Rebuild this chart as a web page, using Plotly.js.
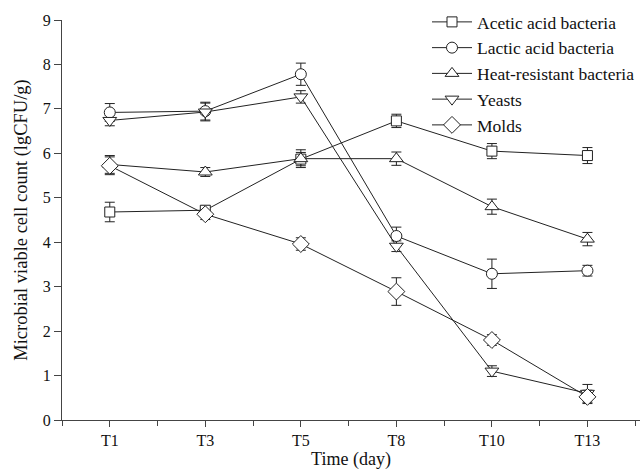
<!DOCTYPE html>
<html><head><meta charset="utf-8">
<script src="https://cdn.plot.ly/plotly-3.0.1.min.js"></script>
<style>body{margin:0;padding:0;background:#fff}#chart{width:644px;height:473px}</style>
</head><body><div id="chart"></div>
<script>
const categories = ["T1","T3","T5","T8","T10","T13"];
const seriesNames = ["Acetic acid bacteria","Lactic acid bacteria","Heat-resistant bacteria","Yeasts","Molds"];
const acetic = [4.68, 4.72, 5.87, 6.73, 6.05, 5.95];
const aceticErr = [0.22, 0.1, 0.15, 0.15, 0.17, 0.18];
const lactic = [6.92, 6.95, 7.78, 4.14, 3.29, 3.36];
const lacticErr = [0.2, 0.2, 0.25, 0.2, 0.33, 0.12];
const heat = [5.75, 5.58, 5.88, 5.88, 4.8, 4.07];
const heatErr = [0.2, 0.1, 0.2, 0.15, 0.17, 0.15];
const yeasts = [6.74, 6.93, 7.27, 3.91, 1.1, 0.6];
const yeastsErr = [0.12, 0.2, 0.14, 0.12, 0.12, 0.2];
const molds = [5.72, 4.63, 3.96, 2.89, 1.8, 0.52];
const moldsErr = [0.2, 0.12, 0.14, 0.31, 0.12, 0.15];

const symbols = ["square","circle","triangle-up","triangle-down","diamond"];
const markerSizes = [10, 11, 12, 12, 13];

const values = [acetic, lactic, heat, yeasts, molds];
const errs = [aceticErr, lacticErr, heatErr, yeastsErr, moldsErr];
const xIdx = categories.map((c,i)=>i);
const ink = "#222";

const errTraces = values.map((v,k)=>({
  type:"scatter", mode:"markers", name:seriesNames[k]+" SD", showlegend:false,
  x:xIdx, y:v, marker:{size:1, opacity:0},
  error_y:{type:"data", array:errs[k], visible:true, color:ink, thickness:1, width:5}
}));
const lineTraces = values.map((v,k)=>({
  type:"scatter", mode:"lines+markers", name:seriesNames[k],
  x:xIdx, y:v,
  line:{color:ink, width:1},
  marker:{symbol:symbols[k], size:markerSizes[k], color:"#fff", line:{color:ink, width:1}}
}));

const fam = "Liberation Serif";
const f = (s)=>({family:fam, size:s, color:"#111"});
const layout = {
  width:644, height:473,
  margin:{l:62, r:4, t:17, b:53},
  paper_bgcolor:"#fff", plot_bgcolor:"#fff",
  font:f(16),
  showlegend:true,
  legend:{x:1, y:1.04, xanchor:"right", yanchor:"top", bgcolor:"rgba(0,0,0,0)",
    font:f(17.5), tracegroupgap:0, itemwidth:40, borderwidth:0},
  xaxis:{
    range:[-0.5,5.55], tickmode:"array", tickvals:xIdx, ticktext:categories,
    ticks:"outside", ticklen:6, tickcolor:"#444", showgrid:false, zeroline:false,
    showline:true, linecolor:"#444", linewidth:1,
    minor:{tickmode:"array", tickvals:[-0.5,0.5,1.5,2.5,3.5,4.5,5.5], ticks:"outside", ticklen:5, tickcolor:"#444", showgrid:false},
    tickfont:f(16),
    title:{text:"Time (day)", font:f(18), standoff:4}
  },
  yaxis:{
    range:[0,9], tickvals:[0,1,2,3,4,5,6,7,8,9],
    ticks:"outside", ticklen:7, tickcolor:"#444", showgrid:false, zeroline:false,
    showline:true, linecolor:"#444", linewidth:1,
    tickfont:f(16),
    title:{text:"Microbial viable cell count (lgCFU/g)", font:f(18.5), standoff:10}
  }
};
Plotly.newPlot("chart", errTraces.concat(lineTraces), layout, {displayModeBar:false, staticPlot:true});
</script></body></html>
